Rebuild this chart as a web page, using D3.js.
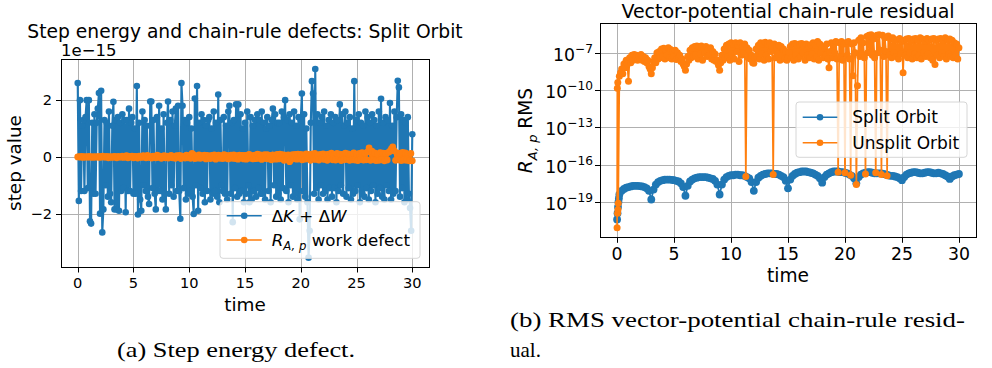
<!DOCTYPE html>
<html>
<head>
<meta charset="utf-8">
<script src="https://cdn.jsdelivr.net/npm/d3@7"></script>
<style>
  body { margin: 0; background: #fff; }
  svg { display: block; font-family: "DejaVu Sans", sans-serif; }
</style>
</head>
<body>
<svg id="fig" width="992" height="368"></svg>
<script>
const blue = "#1f77b4", orange = "#ff7f0e";

// ---- (a) step energy defect, units of 1e-15
// dK + dW every 0.1 time units, work defect every 0.125
const energyDt = 0.1;
const energyDefect = [
  2.6, -1.55, 2.0, -1.2, 1.1, 1.3, -1.2, 1.4, 2.0, -1.1,
  2.0, -2.27, -2.35, 1.2, -1.3, 1.5, -1.3, 1.2, 1.7, 2.25,
  -2.0, 2.33, -2.66, -1.85, 1.3, -1.0, 1.2, -1.4, 1.6, -1.3,
  -1.6, 1.1, 1.94, -1.85, 1.3, -1.85, 1.4, -1.9, 1.2, -1.2,
  1.5, -1.1, 1.3, -1.95, 1.3, -1.2, 1.7, -1.2, 1.2, 1.4,
  -1.3, 1.0, -1.3, 2.5, -2.03, 1.2, -1.5, -1.9, 1.6, -1.0,
  1.3, -1.2, 1.1, -1.4, -1.66, 1.95, 1.95, -1.1, 1.3, -1.3,
  -1.85, 1.4, -1.2, 1.8, -1.2, 1.0, -1.5, 1.5, -1.3, -1.85,
  1.2, 1.95, -1.3, 1.3, -1.0, 1.6, -1.4, 1.1, 1.7, -1.2,
  1.8, -1.2, -2.18, 2.6, 1.8, -1.1, 1.3, -1.5, 1.2, -1.3,
  1.4, -1.2, 1.0, -1.4, -2.01, 2.06, -1.0, 2.5, -1.9, 1.2,
  -1.1, 1.5, -1.3, 1.3, -1.6, 1.1, -1.2, 1.3, 1.4, -1.5,
  1.0, -1.3, 1.6, -1.2, 1.2, -1.4, 2.2, -1.6, 1.3, -1.0,
  -1.2, 1.4, -1.3, 1.1, -1.5, 1.6, 1.8, -1.3, 1.2, -2.3,
  1.3, -1.1, 1.85, -1.4, 1.85, -1.3, 1.5, -1.2, 1.0, -1.6,
  1.2, -1.3, 1.6, -1.0, -1.6, 1.4, -1.5, 1.1, -1.2, 1.3,
  -1.4, 1.5, -1.1, 1.3, -1.3, 1.6, -1.3, 1.2, -1.5, 1.0,
  1.4, -1.2, 1.1, -1.6, 1.3, 1.7, -1.0, 1.5, -1.4, 1.2,
  -1.3, 1.2, -1.5, 1.6, -1.1, 1.4, 2.0, -1.2, 1.3, -1.6,
  1.5, -1.0, 1.2, -1.4, 1.6, -1.3, 1.1, -1.5, 1.4, -2.2,
  1.3, 2.23, -1.2, 1.5, -1.4, 1.0, -1.6, -3.55, -2.6, 1.2,
  2.67, 2.23, -1.3, 3.1, -1.1, 1.5, -1.5, 1.2, -1.0, 1.4,
  -1.3, 1.6, -1.2, 1.1, -1.5, 1.3, -1.1, 1.5, -1.4, 1.2,
  -1.1, 1.4, -1.6, 1.3, -1.2, 1.85, -1.0, 1.5, -1.3, 1.1,
  1.6, -1.4, 1.2, -1.1, 1.4, -1.5, 1.0, -1.3, 2.67, -1.2,
  1.3, -1.0, 1.5, -1.6, 1.2, -1.3, 1.1, -1.4, 1.6, -1.1,
  1.4, -1.5, 1.2, -1.2, 1.5, -1.0, 1.3, -1.6, 1.1, -1.3,
  1.6, -1.1, 2.05, -1.4, 1.2, -1.5, 1.4, -1.0, 1.3, -1.2,
  1.9, -1.5, 1.1, -1.3, 1.6, -1.2, 1.4, 2.68, 2.45, -1.4,
  1.5, -1.1, 1.3, -1.6, 1.2, -1.5, 1.4, -1.3, -1.8, -2.6,
  0.8
];
const workDt = 0.125;
const workDefect = [
  0, 0.01, -0.01, 0.02, -0.02, 0.01, 0, -0.01,
  0.02, -0.01, 0.01, -0.02, 0.01, 0, -0.01, 0.02,
  -0.02, 0.01, 0.03, -0.01, 0, 0.02, -0.03, 0.01,
  0, -0.02, 0.02, 0.01, -0.03, 0.02, 0, -0.01,
  0.03, -0.02, 0.01, 0.04, -0.03, 0.02, -0.01, 0.03,
  -0.03, 0.02, 0.01, -0.04, 0.03, 0, -0.02, 0.04,
  0.02, -0.03, 0.05, -0.02, 0.01, -0.04, 0.03, 0,
  -0.03, 0.06, -0.02, 0.03, -0.05, 0.02, 0.04, -0.03,
  0.03, -0.04, 0.02, 0.05, -0.03, 0.01, -0.05, 0.04,
  -0.02, 0.05, -0.06, 0.03, 0.02, -0.04, 0.06, -0.03,
  0.04, -0.05, 0.12, 0.08, -0.06, 0.03, -0.04, 0.07,
  -0.05, 0.04, -0.03, 0.06, -0.07, 0.05, 0.02, -0.06,
  0.05, -0.04, 0.07, -0.08, 0.03, 0.06, -0.05, 0.04,
  -0.06, 0.08, -0.04, 0.05, -0.07, 0.03, 0.06, -0.05,
  0.07, -0.06, 0.04, -0.08, 0.06, -0.03, 0.05, -0.07,
  0.05, -0.08, 0.06, 0.09, -0.05, 0.04, -0.07, 0.06,
  -0.06, 0.1, -0.05, 0.07, -0.09, 0.05, 0.08, -0.06,
  0.08, -0.07, 0.05, -0.1, 0.07, 0.04, -0.08, 0.09,
  -0.07, 0.1, -0.06, 0.08, -0.12, 0.06, -0.09, 0.07,
  -0.17, -0.1, 0.08, -0.06, 0.09, -0.08, 0.1, -0.07,
  0.09, -0.1, 0.07, -0.08, 0.11, -0.06, 0.08, -0.12,
  0.1, -0.08, 0.12, -0.09, 0.07, -0.11, 0.09, -0.07,
  0.11, -0.09, 0.08, -0.12, 0.1, -0.07, 0.13, -0.1,
  0.08, -0.11, 0.12, -0.08, 0.1, -0.13, 0.09, -0.1,
  0.13, -0.09, 0.11, -0.12, 0.08, -0.1, 0.14, -0.11,
  0.1, -0.13, 0.12, -0.09, 0.15, -0.11, 0.13, -0.1,
  0.18, 0.32, -0.12, 0.2, -0.1, 0.14, -0.13, 0.11,
  -0.12, 0.15, -0.1, 0.13, -0.14, 0.12, -0.11, 0.16,
  0.2, 0.28, 0.35, 0.22, -0.12, 0.14, -0.1, 0.12,
  -0.13, 0.16, -0.11, 0.14, -0.12, 0.1, -0.14, 0.12,
  -0.14
];
const timeTicks = [0, 5, 10, 15, 20, 25, 30];
const defectTicks = [-2, 0, 2];

// ---- (b) RMS chain-rule residual, log10 of the value
// split: a few early steps, then every 0.2 (0.2 .. 30)
const splitStartTime = [0, 0.04, 0.08, 0.12, 0.16];
const splitStart = [-20.4, -19.9, -19.4, -19.0, -18.7];
const splitDt = 0.2;
const splitResidual = [
  -18.4, -18.1, -17.95, -17.85, -17.8,
  -17.75, -17.7, -17.7, -17.7, -17.72,
  -17.75, -17.8, -17.9, -18.1, -18.8,
  -18.0, -17.6, -17.4, -17.3, -17.25,
  -17.2, -17.2, -17.2, -17.22, -17.25,
  -17.3, -17.35, -17.5, -17.8, -18.5,
  -17.7, -17.35, -17.2, -17.1, -17.05,
  -17.0, -17.0, -17.0, -17.0, -17.05,
  -17.1, -17.15, -17.3, -17.6, -18.4,
  -17.6, -17.2, -17.0, -16.9, -16.85,
  -16.85, -16.8, -16.8, -16.85, -16.85,
  -16.9, -17.0, -17.1, -17.4, -18.1,
  -17.4, -17.05, -16.9, -16.8, -16.75,
  -16.7, -16.7, -16.7, -16.75, -16.75,
  -16.8, -16.9, -17.0, -17.3, -17.9,
  -17.2, -16.9, -16.75, -16.65, -16.6,
  -16.55, -16.55, -16.55, -16.6, -16.65,
  -16.7, -16.8, -16.9, -17.1, -17.45,
  -17.0, -16.8, -16.7, -16.6, -16.55,
  -16.55, -16.55, -16.6, -16.6, -16.65,
  -16.7, -16.8, -16.9, -17.1, -17.5,
  -17.0, -16.8, -16.7, -16.65, -16.6,
  -16.6, -16.65, -16.7, -16.7, -16.7,
  -16.7, -16.75, -16.8, -16.85, -16.9,
  -16.9, -16.95, -17.0, -17.1, -17.25,
  -17.0, -16.8, -16.7, -16.65, -16.6,
  -16.6, -16.65, -16.7, -16.7, -16.65,
  -16.6, -16.6, -16.65, -16.7, -16.7,
  -16.65, -16.7, -16.75, -16.85, -16.95,
  -17.15, -16.95, -16.85, -16.8, -16.75
];
// unsplit: a few early steps, then every 0.1 (0.1 .. 30)
const unsplitStartTime = [0, 0.02, 0.04, 0.06, 0.08];
const unsplitStart = [-21.07, -9.85, -19.9, -9.4, -19.6];
const unsplitDt = 0.1;
const unsplitResidual = [
  -19.1, -8.9, -8.6, -8.3, -8.7, -7.9, -8.2, -7.6, -7.9, -9.3,
  -7.4, -7.8, -7.2, -7.6, -7.15, -7.55, -7.2, -7.6, -7.3, -7.5,
  -7.15, -7.6, -7.3, -7.7, -7.4, -7.8, -7.6, -8.1, -8.3, -8.7,
  -8.2, -7.7, -7.4, -7.8, -7.0, -7.5, -6.9, -7.4, -6.7, -7.3,
  -6.65, -7.5, -6.8, -7.2, -6.6, -7.4, -6.75, -7.5, -6.9, -7.3,
  -6.8, -7.55, -7.0, -7.4, -7.2, -7.7, -7.5, -7.9, -8.1, -8.4,
  -7.9, -7.3, -7.6, -6.8, -7.4, -6.6, -7.3, -6.5, -7.2, -6.45,
  -7.5, -6.5, -7.1, -6.45, -7.6, -6.6, -7.0, -6.5, -7.3, -6.7,
  -7.2, -6.6, -7.5, -6.9, -7.6, -7.1, -7.7, -7.6, -8.0, -8.4,
  -7.8, -7.2, -7.6, -6.7, -7.4, -6.4, -7.3, -6.3, -7.6, -6.2,
  -7.1, -6.3, -7.5, -6.2, -6.9, -6.4, -7.7, -6.2, -7.2, -6.5,
  -7.0, -6.3, -16.95, -6.6, -7.4, -6.8, -7.5, -7.2, -7.8, -7.85,
  -7.4, -6.7, -7.3, -6.4, -7.5, -6.2, -7.1, -6.3, -7.6, -6.15,
  -7.2, -6.3, -7.5, -6.2, -6.9, -6.5, -16.8, -6.3, -7.4, -6.6,
  -7.1, -6.4, -7.6, -6.5, -7.2, -6.7, -7.5, -6.9, -7.6, -7.4,
  -7.0, -6.5, -7.4, -6.3, -7.6, -6.25, -7.2, -6.4, -7.5, -6.3,
  -7.3, -6.25, -7.0, -6.4, -7.6, -6.3, -7.2, -6.5, -7.4, -6.35,
  -7.1, -6.2, -7.5, -6.4, -7.3, -6.1, -7.6, -6.3, -7.0, -6.6,
  -7.4, -6.5, -7.2, -6.3, -7.5, -8.2, -6.9, -6.2, -7.4, -6.3,
  -7.0, -6.1, -7.5, -16.6, -6.2, -7.3, -6.1, -7.6, -6.3, -16.65,
  -6.2, -7.2, -6.1, -7.5, -16.85, -6.3, -8.85, -6.2, -7.0, -17.6,
  -9.65, -6.0, -7.3, -5.8, -7.1, -6.2, -7.4, -16.75, -5.7, -7.0,
  -5.6, -6.9, -5.55, -7.2, -5.9, -7.4, -16.65, -5.6, -7.0, -5.55,
  -6.8, -16.8, -5.6, -7.3, -5.8, -6.9, -16.9, -5.65, -7.2, -5.9,
  -7.4, -5.8, -7.0, -5.95, -7.3, -6.0, -7.5, -5.85, -7.1, -6.1,
  -8.6, -6.0, -7.2, -5.9, -7.4, -5.85, -7.0, -6.1, -7.5, -5.9,
  -7.1, -5.85, -7.4, -6.0, -7.2, -5.8, -7.5, -5.9, -7.0, -6.1,
  -7.3, -5.85, -7.1, -6.0, -7.4, -5.9, -7.6, -5.85, -7.95, -6.0,
  -7.2, -5.9, -7.4, -5.85, -7.0, -6.0, -7.3, -5.8, -7.5, -5.95,
  -7.1, -5.9, -7.3, -6.0, -7.4, -6.2, -7.2, -6.3, -7.5, -6.6
];
const residualTicks = [-19, -16, -13, -10, -7];

const svg = d3.select("#fig");

function frame(g, x, y) {
  const [x0, x1] = x.range(), [y0, y1] = y.range();
  g.append("rect")
    .attr("x", Math.round(x0) + 0.5).attr("y", Math.round(y1) + 0.5)
    .attr("width", Math.round(x1 - x0)).attr("height", Math.round(y0 - y1))
    .attr("fill", "none").attr("stroke", "#000").attr("stroke-width", 1);
}

function clip(id, x, y) {
  const [x0, x1] = x.range(), [y0, y1] = y.range();
  svg.append("clipPath").attr("id", id).append("rect")
    .attr("x", x0).attr("y", y1).attr("width", x1 - x0).attr("height", y0 - y1);
}

function series(g, pts, x, y, color, lw, r) {
  g.append("path").datum(pts)
    .attr("fill", "none").attr("stroke", color).attr("stroke-width", lw)
    .attr("stroke-linejoin", "round")
    .attr("d", d3.line().x(d => x(d[0])).y(d => y(d[1])));
  g.append("g").selectAll("circle").data(pts).join("circle")
    .attr("cx", d => x(d[0])).attr("cy", d => y(d[1])).attr("r", r)
    .attr("fill", color);
}

function legend(g, box, rows, fs) {
  g.append("rect").attr("x", box[0]).attr("y", box[1])
    .attr("width", box[2]).attr("height", box[3]).attr("rx", 3)
    .attr("fill", "#fff").attr("fill-opacity", 0.8)
    .attr("stroke", "#d6d6d6").attr("stroke-width", 1);
  rows.forEach(rw => {
    g.append("line").attr("x1", rw.x1).attr("x2", rw.x2).attr("y1", rw.y).attr("y2", rw.y)
      .attr("stroke", rw.color).attr("stroke-width", 1.6);
    g.append("circle").attr("cx", (rw.x1 + rw.x2) / 2).attr("cy", rw.y).attr("r", 3.3)
      .attr("fill", rw.color);
    const t = g.append("text").attr("x", rw.tx).attr("y", rw.y + fs * 0.36)
      .attr("font-size", fs);
    rw.parts.forEach(p => {
      const s = t.append("tspan").text(p.s);
      if (p.it) s.attr("font-style", "italic");
      if (p.sub) s.attr("font-size", fs * 0.7).attr("dy", p.dy);
      if (p.back) s.attr("dy", p.back);
    });
  });
}

// ================= panel (a) =================
{
  const x = d3.scaleLinear().domain([-1.5, 31.5]).range([61, 429]);
  const y = d3.scaleLinear().domain([-3.88, 3.45]).range([267, 59]);
  const g = svg.append("g");

  const grid = g.append("g").attr("stroke", "#b0b0b0").attr("stroke-width", 1);
  timeTicks.forEach(t => grid.append("line")
    .attr("x1", Math.round(x(t)) + 0.5).attr("x2", Math.round(x(t)) + 0.5)
    .attr("y1", 59).attr("y2", 267));
  defectTicks.forEach(v => grid.append("line")
    .attr("x1", 61).attr("x2", 429)
    .attr("y1", Math.round(y(v)) + 0.5).attr("y2", Math.round(y(v)) + 0.5));

  clip("clipA", x, y);
  const data = g.append("g").attr("clip-path", "url(#clipA)");
  series(data, energyDefect.map((v, i) => [i * energyDt, v]), x, y, blue, 2.1, 3.3);
  series(data, workDefect.map((v, i) => [i * workDt, v]), x, y, orange, 1.7, 3.4);

  frame(g, x, y);

  const xt = g.append("g").attr("font-size", 14.6).attr("text-anchor", "middle");
  timeTicks.forEach(t => {
    const px = Math.round(x(t)) + 0.5;
    g.append("line").attr("x1", px).attr("x2", px).attr("y1", 267.5).attr("y2", 272.5)
      .attr("stroke", "#000");
    xt.append("text").attr("x", x(t)).attr("y", 288).text(t);
  });
  const yt = g.append("g").attr("font-size", 14.6).attr("text-anchor", "end");
  defectTicks.forEach(v => {
    const py = Math.round(y(v)) + 0.5;
    g.append("line").attr("x1", 56).attr("x2", 61.5).attr("y1", py).attr("y2", py)
      .attr("stroke", "#000");
    yt.append("text").attr("x", 52).attr("y", y(v) + 5.3)
      .text(v < 0 ? "\u2212" + Math.abs(v) : v);
  });

  g.append("text").attr("x", 61).attr("y", 56).attr("font-size", 16.5).text("1e\u221215");
  g.append("text").attr("x", 245).attr("y", 37.7).attr("font-size", 18.7)
    .attr("text-anchor", "middle").text("Step energy and chain-rule defects: Split Orbit");
  g.append("text").attr("x", 245).attr("y", 311).attr("font-size", 18.4)
    .attr("text-anchor", "middle").text("time");
  g.append("text").attr("transform", "translate(21,163) rotate(-90)").attr("font-size", 18.4)
    .attr("text-anchor", "middle").text("step value");

  legend(g, [220, 201.7, 200, 56.6], [
    { x1: 226.7, x2: 261.7, y: 215.7, tx: 271.7, color: blue,
      parts: [{ s: "\u0394" }, { s: "K", it: 1 }, { s: " + \u0394" }, { s: "W", it: 1 }] },
    { x1: 226.7, x2: 261.7, y: 240, tx: 271.7, color: orange,
      parts: [{ s: "R", it: 1 }, { s: "A, p", it: 1, sub: 1, dy: 4 }, { s: " work defect", back: -4 }] }
  ], 16.7);

  svg.append("text").attr("x", 236).attr("y", 357).attr("text-anchor", "middle")
    .attr("font-family", "'Liberation Serif', serif").attr("font-size", 21)
    .attr("textLength", 238).attr("lengthAdjust", "spacingAndGlyphs")
    .text("(a) Step energy defect.");
}

// ================= panel (b) =================
{
  const x = d3.scaleLinear().domain([-1.5, 31.5]).range([600, 976]);
  const y = d3.scaleLog().domain([Math.pow(10, -21.84), Math.pow(10, -4.61)]).range([237.3, 23]);
  const g = svg.append("g");

  const grid = g.append("g").attr("stroke", "#b0b0b0").attr("stroke-width", 1);
  timeTicks.forEach(t => grid.append("line")
    .attr("x1", Math.round(x(t)) + 0.5).attr("x2", Math.round(x(t)) + 0.5)
    .attr("y1", 23).attr("y2", 237.3));
  residualTicks.forEach(e => grid.append("line")
    .attr("x1", 600).attr("x2", 976)
    .attr("y1", Math.round(y(Math.pow(10, e))) + 0.5).attr("y2", Math.round(y(Math.pow(10, e))) + 0.5));

  clip("clipB", x, y);
  const data = g.append("g").attr("clip-path", "url(#clipB)");
  const split = splitStartTime.map((t, i) => [t, splitStart[i]])
    .concat(splitResidual.map((v, i) => [(i + 1) * splitDt, v]))
    .map(d => [d[0], Math.pow(10, d[1])]);
  const unsplit = unsplitStartTime.map((t, i) => [t, unsplitStart[i]])
    .concat(unsplitResidual.map((v, i) => [(i + 1) * unsplitDt, v]))
    .map(d => [d[0], Math.pow(10, d[1])]);
  series(data, split, x, y, blue, 1.7, 3.9);
  series(data, unsplit, x, y, orange, 1.7, 3.5);

  frame(g, x, y);

  const xt = g.append("g").attr("font-size", 17.3).attr("text-anchor", "middle");
  timeTicks.forEach(t => {
    const px = Math.round(x(t)) + 0.5;
    g.append("line").attr("x1", px).attr("x2", px).attr("y1", 237.8).attr("y2", 242.8)
      .attr("stroke", "#000");
    xt.append("text").attr("x", x(t)).attr("y", 260).text(t);
  });
  const yt = g.append("g").attr("font-size", 17.3).attr("text-anchor", "end");
  residualTicks.forEach(e => {
    const py = Math.round(y(Math.pow(10, e))) + 0.5;
    g.append("line").attr("x1", 595).attr("x2", 600.5).attr("y1", py).attr("y2", py)
      .attr("stroke", "#000");
    const t = yt.append("text").attr("x", 593).attr("y", py + 7);
    t.append("tspan").text("10");
    t.append("tspan").attr("font-size", 12.2).attr("dy", -8).text("\u2212" + Math.abs(e));
  });

  g.append("text").attr("x", 788).attr("y", 17.5).attr("font-size", 19)
    .attr("text-anchor", "middle").text("Vector-potential chain-rule residual");
  g.append("text").attr("x", 788).attr("y", 281.5).attr("font-size", 18.6)
    .attr("text-anchor", "middle").text("time");
  const yl = g.append("text").attr("transform", "translate(532,130.5) rotate(-90)")
    .attr("font-size", 18.6).attr("text-anchor", "middle");
  yl.append("tspan").attr("font-style", "italic").text("R");
  yl.append("tspan").attr("font-style", "italic").attr("font-size", 13).attr("dy", 4.5).text("A, p");
  yl.append("tspan").attr("dy", -4.5).text(" RMS");

  legend(g, [796, 102, 171, 55.3], [
    { x1: 802.7, x2: 837.3, y: 117.3, tx: 852.3, color: blue, parts: [{ s: "Split Orbit" }] },
    { x1: 802.7, x2: 837.3, y: 142.7, tx: 852.3, color: orange, parts: [{ s: "Unsplit Orbit" }] }
  ], 17);

  const cap = svg.append("g").attr("font-family", "'Liberation Serif', serif").attr("font-size", 21);
  cap.append("text").attr("x", 510).attr("y", 327)
    .attr("textLength", 455).attr("lengthAdjust", "spacingAndGlyphs")
    .text("(b) RMS vector-potential chain-rule resid-");
  cap.append("text").attr("x", 510).attr("y", 357).text("ual.");
}
</script>
</body>
</html>
